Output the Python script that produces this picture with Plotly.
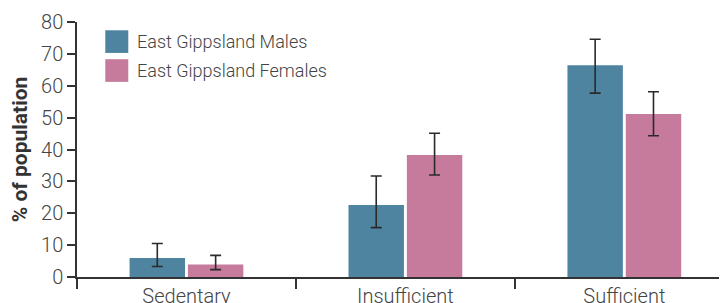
import plotly.graph_objects as go

categories = ["Sedentary", "Insufficient", "Sufficient"]
male_values = [6.0, 22.6, 66.4]
male_err_plus = [4.5, 9.1, 8.2]
male_err_minus = [2.7, 7.1, 8.7]
female_values = [3.9, 38.3, 51.1]
female_err_plus = [2.9, 6.8, 7.0]
female_err_minus = [1.6, 6.3, 6.8]
series_names = ["East Gippsland Males", "East Gippsland Females"]
y_ticks = [0, 10, 20, 30, 40, 50, 60, 70, 80]

MALE_COLOR = "#4e84a0"
FEMALE_COLOR = "#c67b9c"
TEXT_COLOR = "#444444"
AXIS_COLOR = "#333333"
FONT = "Roboto"

# page has an 8px body margin, so the figure is sized to fill the rest of the window
OFF = 8
W, H = 727 - OFF, 303 - OFF
L, T, B = 76.7 - OFF, 21.7 - OFF, 25.7
PW = W - L
PH = H - T - B

fig = go.Figure()
for name, vals, ep, em, col in [
    (series_names[0], male_values, male_err_plus, male_err_minus, MALE_COLOR),
    (series_names[1], female_values, female_err_plus, female_err_minus, FEMALE_COLOR),
]:
    fig.add_trace(go.Bar(
        name=name, x=categories, y=vals, marker_color=col, marker_line_width=0,
        error_y=dict(type="data", symmetric=False, array=ep, arrayminus=em,
                     color="#2a2a2a", thickness=1.6, width=5.5),
        showlegend=False,
    ))

# custom legend with large swatches (positions given in window pixels)
def px_x(px):
    return (px - OFF - L) / PW

def px_y(py):
    return (H - B - (py - OFF)) / PH

legend_rows = [(series_names[0], MALE_COLOR, 30.0), (series_names[1], FEMALE_COLOR, 59.0)]
for name, col, top in legend_rows:
    fig.add_shape(type="rect", xref="paper", yref="paper",
                  x0=px_x(105), x1=px_x(128), y0=px_y(top + 22.7), y1=px_y(top),
                  fillcolor=col, line_width=0)
    fig.add_annotation(xref="paper", yref="paper", x=px_x(135), y=px_y(top + 11.3),
                       text=name, showarrow=False, xanchor="left", yanchor="middle",
                       font=dict(family=FONT, size=18, color=TEXT_COLOR, weight=300))

fig.update_layout(
    width=W, height=H,
    margin=dict(l=L, r=0, t=T, b=B, pad=0, autoexpand=False),
    paper_bgcolor="white", plot_bgcolor="white",
    barmode="group", bargap=0.467, bargroupgap=0.05,
    font=dict(family=FONT, color=TEXT_COLOR),
    xaxis=dict(type="category", range=[-0.5, 2.469], showline=True, linecolor=AXIS_COLOR,
               linewidth=1.5, ticks="outside", tickson="boundaries", ticklen=10,
               tickwidth=1.5, tickcolor=AXIS_COLOR, showgrid=False, zeroline=False,
               automargin=False,
               tickfont=dict(family=FONT, size=20, color=TEXT_COLOR, weight=300)),
    yaxis=dict(range=[0, 80], tickvals=y_ticks, showline=True, linecolor=AXIS_COLOR,
               linewidth=1.5, ticks="outside", ticklen=8, tickwidth=1.5,
               tickcolor=AXIS_COLOR, showgrid=False, zeroline=False, automargin=False,
               tickfont=dict(family=FONT, size=20, color=TEXT_COLOR, weight=300),
               title=dict(text="% of population", standoff=8,
                          font=dict(family=FONT, size=21, color="#333333", weight="bold"))),
)

fig.write_html("out.html")
